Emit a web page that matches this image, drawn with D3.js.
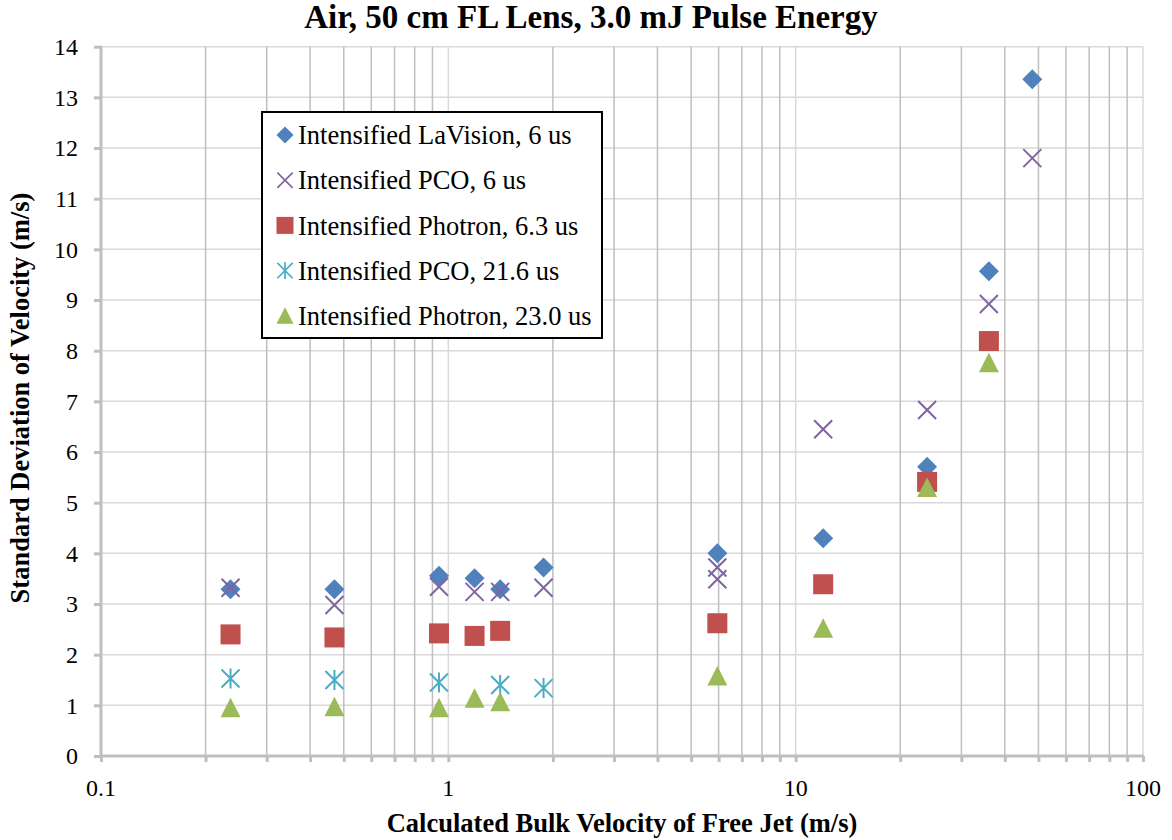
<!DOCTYPE html>
<html><head><meta charset="utf-8">
<script src="https://cdn.jsdelivr.net/npm/d3@7"></script>
<style>body{margin:0;background:#fff}svg{display:block}</style>
</head><body><svg id="c" width="1172" height="840"></svg>
<script>
const title = "Air, 50 cm FL Lens, 3.0 mJ Pulse Energy";
const xLabel = "Calculated Bulk Velocity of Free Jet (m/s)";
const yLabel = "Standard Deviation of Velocity (m/s)";
const xTickLabels = [0.1, 1, 10, 100];
const yTickValues = [0,1,2,3,4,5,6,7,8,9,10,11,12,13,14];

const seriesNames = ["Intensified LaVision, 6 us","Intensified PCO, 6 us","Intensified Photron, 6.3 us","Intensified PCO, 21.6 us","Intensified Photron, 23.0 us"];
const seriesColors = ["#4F81BD","#8064A2","#C0504D","#4BACC6","#9BBB59"];
const seriesShapes = ["diamond","x","square","asterisk","triangle"];

const lavisionX = [0.236,0.47,0.94,1.19,1.41,1.88,5.95,12.0,23.9,36.0,48.0];
const lavisionY = [3.29,3.29,3.56,3.51,3.29,3.72,4.00,4.30,5.71,9.57,13.36];
const pco6X = [0.236,0.47,0.94,1.19,1.41,1.88,5.95,5.95,12.0,23.9,36.0,48.0];
const pco6Y = [3.32,2.98,3.34,3.24,3.24,3.32,3.72,3.49,6.45,6.83,8.92,11.80];
const photron63X = [0.236,0.47,0.94,1.19,1.41,5.95,12.0,23.9,36.0];
const photron63Y = [2.40,2.34,2.42,2.37,2.47,2.62,3.39,5.41,8.19];
const pco216X = [0.236,0.47,0.94,1.41,1.88];
const pco216Y = [1.53,1.50,1.45,1.40,1.34];
const photron23X = [0.236,0.47,0.94,1.19,1.41,5.95,12.0,23.9,36.0];
const photron23Y = [0.95,0.97,0.95,1.14,1.07,1.58,2.52,5.30,7.76];

const seriesX = [lavisionX,pco6X,photron63X,pco216X,photron23X];
const seriesY = [lavisionY,pco6Y,photron63Y,pco216Y,photron23Y];

const FONT = "'Liberation Serif', 'Times New Roman', Times, serif";
const svg = d3.select("#c");
const L=101, R=1143, T=46.7, B=756;
const x = d3.scaleLog().domain([0.1,100]).range([L,R]);
const y = d3.scaleLinear().domain([0,14]).range([B,T]);

const minorX = [];
for (let d=0.1; d<100; d*=10) for (let k=2;k<=9;k++) minorX.push(+(d*k).toPrecision(3));
const majorX = [1,10,100];

const g = svg.append("g");
g.selectAll(".hg").data(yTickValues.filter(v=>v>0)).enter().append("line")
 .attr("x1",L).attr("x2",R).attr("y1",d=>y(d)).attr("y2",d=>y(d))
 .attr("stroke","#d9d9d9").attr("stroke-width",1.5);
g.selectAll(".vm").data(minorX).enter().append("line")
 .attr("x1",d=>x(d)).attr("x2",d=>x(d)).attr("y1",T).attr("y2",B)
 .attr("stroke","#bfbfbf").attr("stroke-width",1.5);
g.selectAll(".vM").data(majorX).enter().append("line")
 .attr("x1",d=>x(d)).attr("x2",d=>x(d)).attr("y1",T).attr("y2",B)
 .attr("stroke","#d9d9d9").attr("stroke-width",1.5);

const xAxis = d3.axisBottom(x).tickValues([0.1].concat(minorX).concat(majorX)).tickSize(6).tickFormat("");
const xa = svg.append("g").attr("transform",`translate(0,${B})`).call(xAxis);
xa.select(".domain").attr("stroke","#bfbfbf").attr("stroke-width",3).attr("d",`M${L-1},0H${R+1}`);
xa.selectAll(".tick line").attr("stroke","#bfbfbf").attr("stroke-width",3);
const yAxis = d3.axisLeft(y).tickValues(yTickValues).tickSize(7).tickFormat("");
const ya = svg.append("g").attr("transform",`translate(${L},0)`).call(yAxis);
ya.select(".domain").attr("stroke","#bfbfbf").attr("stroke-width",3).attr("d",`M0,${T-1}V${B+1}`);
ya.selectAll(".tick line").attr("stroke","#bfbfbf").attr("stroke-width",3);

svg.selectAll(".yl").data(yTickValues).enter().append("text")
 .attr("x",78).attr("y",d=>y(d)).attr("dy","0.35em").attr("text-anchor","end")
 .attr("font-family",FONT).attr("font-size",24).attr("fill","#000").text(d=>d);
svg.selectAll(".xl").data(xTickLabels).enter().append("text")
 .attr("x",d=>x(d)).attr("y",796).attr("text-anchor","middle")
 .attr("font-family",FONT).attr("font-size",24).attr("fill","#000").text(d=>d);

svg.append("text").attr("x",591).attr("y",28).attr("text-anchor","middle")
 .attr("font-family",FONT).attr("font-size",33).attr("font-weight","bold").text(title);
svg.append("text").attr("x",622).attr("y",832).attr("text-anchor","middle")
 .attr("font-family",FONT).attr("font-size",26.5).attr("font-weight","bold").text(xLabel);
svg.append("text").attr("transform","translate(29,398) rotate(-90)").attr("text-anchor","middle")
 .attr("font-family",FONT).attr("font-size",26.5).attr("font-weight","bold").text(yLabel);

function drawMarker(sel, shape, color){
  if (shape==="diamond") sel.append("path").attr("d","M0,-10L10,0L0,10L-10,0Z").attr("fill",color);
  else if (shape==="square") sel.append("rect").attr("x",-10).attr("y",-10).attr("width",20).attr("height",20).attr("fill",color);
  else if (shape==="triangle") sel.append("path").attr("d","M0,-10L10,9.5L-10,9.5Z").attr("fill",color);
  else if (shape==="x") sel.append("path").attr("d","M-9,-9L9,9M9,-9L-9,9").attr("stroke",color).attr("stroke-width",2).attr("fill","none");
  else if (shape==="asterisk") sel.append("path").attr("d","M-9,-9L9,9M9,-9L-9,9M0,-10V10").attr("stroke",color).attr("stroke-width",2).attr("fill","none");
}

[0,1,2,3,4].forEach(i=>{
  const pts = seriesX[i].map((xv,j)=>({x:xv,y:seriesY[i][j]}));
  svg.append("g").selectAll("g").data(pts).enter().append("g")
    .attr("transform",d=>`translate(${x(d.x)},${y(d.y)})`)
    .each(function(){ drawMarker(d3.select(this), seriesShapes[i], seriesColors[i]); });
});

const lg = svg.append("g");
lg.append("rect").attr("x",262).attr("y",112).attr("width",340).attr("height",226)
  .attr("fill","#fff").attr("stroke","#000").attr("stroke-width",2);
seriesNames.forEach((n,i)=>{
  const yy = 135 + i*45.2;
  const mg = lg.append("g");
  drawMarker(mg, seriesShapes[i], seriesColors[i]);
  mg.attr("transform",`translate(285,${yy}) scale(0.85)`);
  lg.append("text").attr("x",298).attr("y",yy).attr("dy","0.35em")
    .attr("font-family",FONT).attr("font-size",26.5).attr("fill","#000").text(n);
});
</script></body></html>
